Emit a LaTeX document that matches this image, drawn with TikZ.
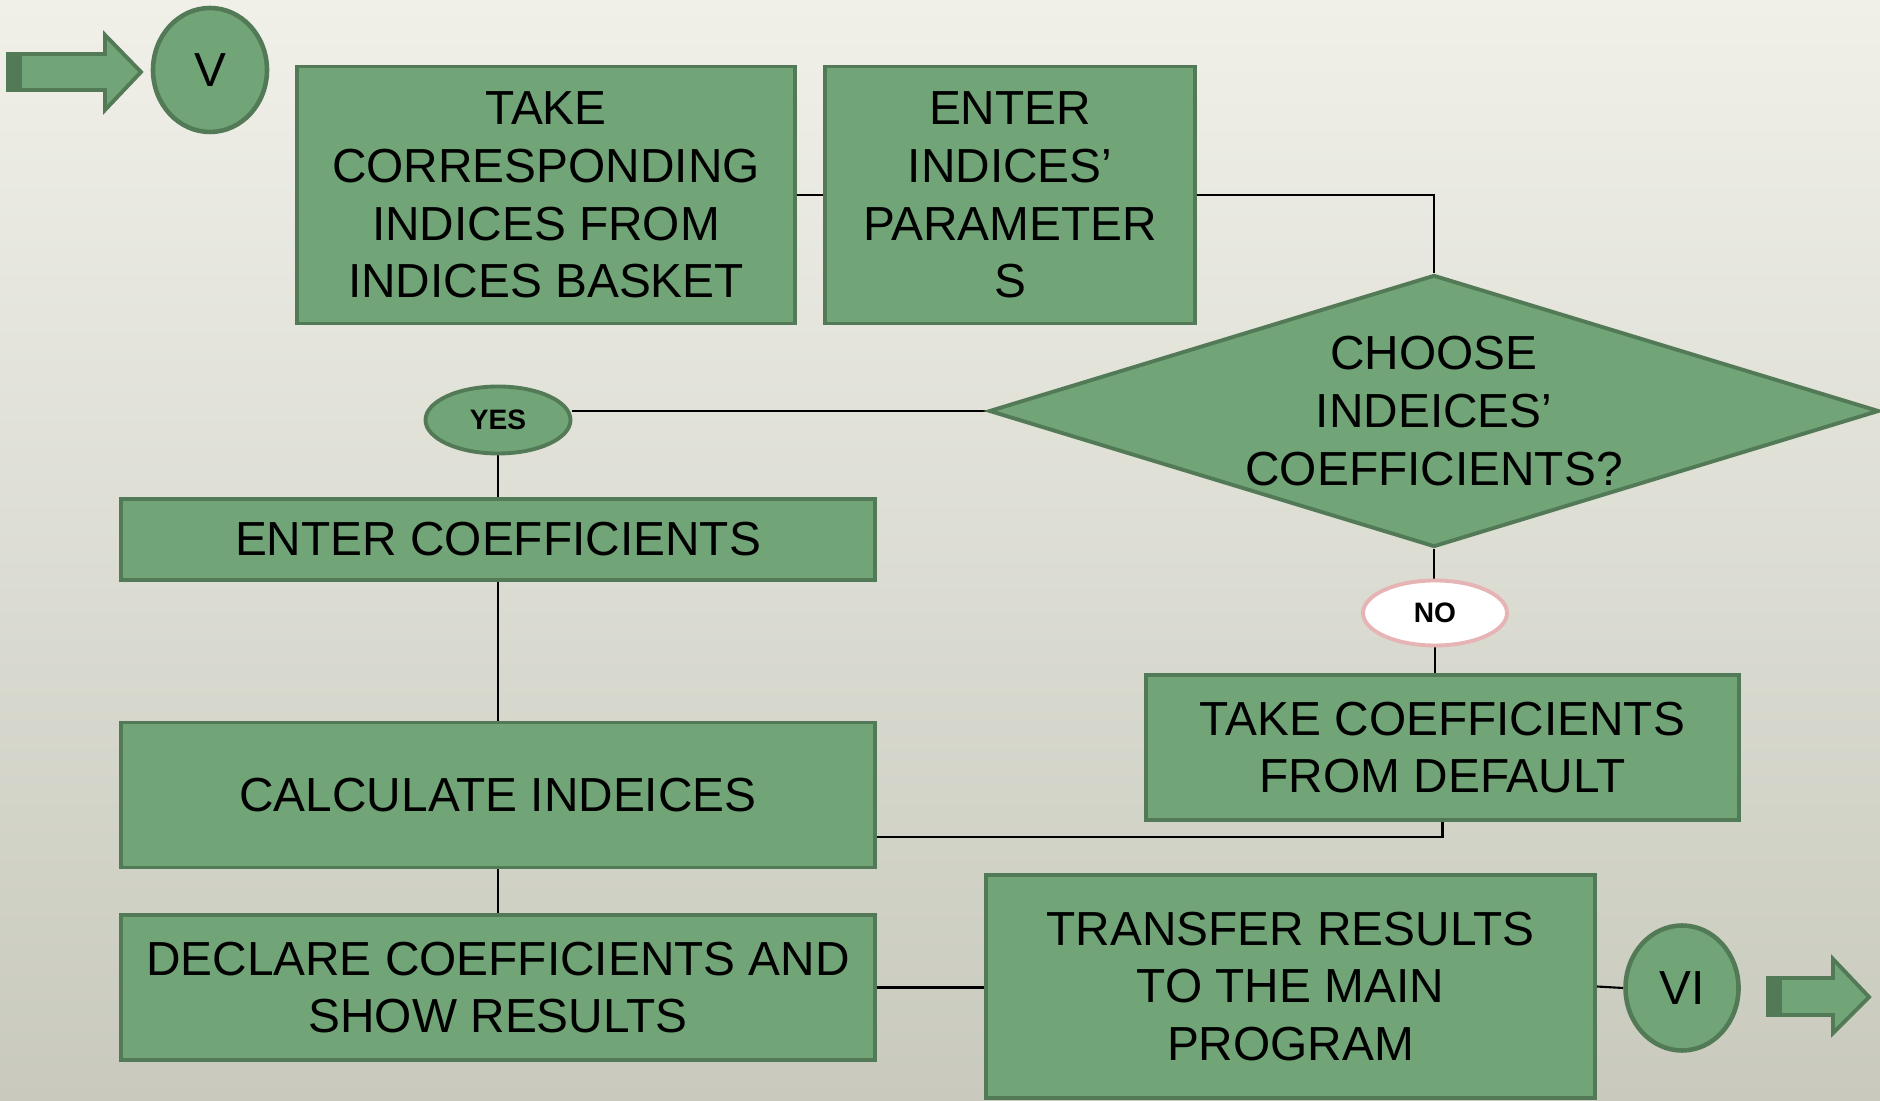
\documentclass[tikz,border=0pt]{standalone}
\usepackage{fontspec}
\setmainfont{Liberation Sans}
\usetikzlibrary{shapes,positioning,calc,backgrounds}
\definecolor{boxfill}{RGB}{113,164,118}
\definecolor{boxline}{RGB}{83,122,86}
\definecolor{bgtop}{RGB}{240,240,233}
\definecolor{bgbot}{RGB}{201,202,189}
\definecolor{nopink}{RGB}{230,180,180}
\begin{document}
\begin{tikzpicture}
[font=\fontsize{13.6}{16.4}\selectfont,
%
procbox/.style={shape=rectangle,draw=boxline,fill=boxfill,line width=1.1pt,align=center,inner sep=2pt},
decision/.style={shape=diamond,draw=boxline,fill=boxfill,line width=1.1pt,inner sep=0pt},
answer/.style={shape=ellipse,draw=boxline,fill=boxfill,line width=1.1pt,inner sep=0pt,font=\fontsize{8}{9}\selectfont\bfseries},
pagelink/.style={shape=ellipse,draw=boxline,fill=boxfill,line width=1.3pt,inner sep=0pt},
bigarrow/.style={draw=boxline,fill=boxfill,line width=1.1pt,line join=miter},
%
flow/.style={draw,line width=0.6pt,black}]
\useasboundingbox (0,0) rectangle (18.8,11);
%
% page links
\node (V) [pagelink,minimum width=1.14cm,minimum height=1.24cm] at (2.10,10.30) {V};
\node (VI) [pagelink,minimum width=1.13cm,minimum height=1.25cm] at (16.82,1.12) {VI};
\draw[bigarrow] (0.08,10.46) -- (1.05,10.46) -- (1.05,10.65) -- (1.41,10.28) -- (1.05,9.90) -- (1.05,10.10) -- (0.08,10.10) -- cycle;
\fill[boxline] (0.08,10.10) rectangle (0.22,10.46);
\draw[bigarrow] (17.68,1.22) -- (18.33,1.22) -- (18.33,1.41) -- (18.69,1.03) -- (18.33,0.67) -- (18.33,0.85) -- (17.68,0.85) -- cycle;
\fill[boxline] (17.68,0.85) rectangle (17.82,1.22);
%%
% top row
\node (take) [procbox,minimum width=4.98cm,minimum height=2.57cm] at (5.46,9.05)
   {TAKE\\CORRESPONDING\\INDICES FROM\\INDICES BASKET};
\node (param) [procbox,minimum width=3.70cm,minimum height=2.57cm] at (10.10,9.05)
   {ENTER\\INDICES’\\PARAMETER\\S};
%%
% decision
\node (choose) [decision,minimum width=8.9cm,minimum height=2.72cm,
   label={[align=center]center:CHOOSE\\INDEICES’\\COEFFICIENTS?}] at (14.34,6.89) {};
\node (yes) [answer,minimum width=1.45cm,minimum height=0.67cm] at (4.98,6.80) {YES};
\node (no) [answer,draw=nopink,fill=white,minimum width=1.44cm,minimum height=0.65cm] at (14.35,4.87) {NO};
%%
% left column
\node (entc) [procbox,minimum width=7.54cm,minimum height=0.81cm] at (4.98,5.605) {ENTER COEFFICIENTS};
\node (calc) [procbox,minimum width=7.54cm,minimum height=1.45cm] at (4.98,3.05) {CALCULATE INDEICES};
\node (decl) [procbox,minimum width=7.54cm,minimum height=1.45cm] at (4.98,1.125)
   {DECLARE COEFFICIENTS AND\\SHOW RESULTS};
%%
% right column
\node (dflt) [procbox,minimum width=5.93cm,minimum height=1.45cm] at (14.425,3.525)
   {TAKE COEFFICIENTS\\FROM DEFAULT};
\node (xfer) [procbox,minimum width=6.09cm,minimum height=2.23cm] at (12.905,1.135)
   {TRANSFER RESULTS\\TO THE MAIN\\PROGRAM};
%%
% background and connectors
\begin{pgfonlayer}{background}
\shade[top color=bgtop,bottom color=bgbot] (0,0) rectangle (18.8,11);
\draw[flow] (take.east) -- (param.west);
\draw[flow] (param.east) -| (choose.north);
\draw[flow] (choose.west) -- (choose.west -| yes.east);
\draw[flow] (yes.south) -- (entc.north);
\draw[flow] (entc.south) -- (calc.north);
\draw[flow] (choose.south) -- (choose.south |- no.north);
\draw[flow] (no.south) -- (no.south |- dflt.north);
\draw[flow] (dflt.south) -- ++(0,-0.15) coordinate (dturn) -- (dturn -| calc.east);
\draw[flow] (calc.south) -- (decl.north);
\draw[flow] (decl.east) -- (decl.east -| xfer.west);
\draw[flow] (xfer.east) -- (VI.west);
\end{pgfonlayer}
\end{tikzpicture}
\end{document}
